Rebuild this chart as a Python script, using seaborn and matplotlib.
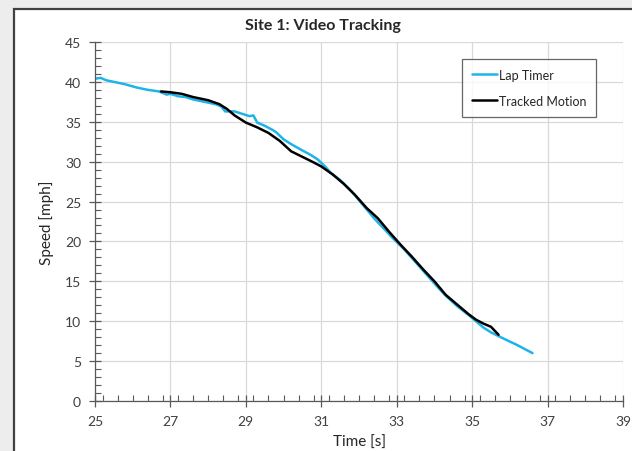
import matplotlib
matplotlib.use("Agg")
import matplotlib.pyplot as plt
import seaborn as sns
import pandas as pd
from matplotlib.patches import Rectangle
from matplotlib.ticker import MultipleLocator

# lap timer trace
lap_time = [25.0, 25.15, 25.3, 25.5, 25.8, 26.1, 26.4, 26.7, 26.9, 27.0, 27.2, 27.4,
            27.6, 27.9, 28.2, 28.35, 28.45, 28.7, 28.9, 29.1, 29.2, 29.3, 29.5, 29.7,
            29.8, 30.0, 30.2, 30.35, 30.5, 30.7, 30.9, 31.1, 31.25, 31.5, 31.8, 32.1,
            32.4, 32.7, 32.9, 33.2, 33.5, 33.8, 34.1, 34.3, 34.6, 34.9, 35.1, 35.3,
            35.5, 35.8, 36.2, 36.6]
lap_speed = [40.4, 40.5, 40.2, 40.0, 39.7, 39.3, 39.0, 38.8, 38.4, 38.5, 38.2, 38.1,
             37.8, 37.5, 37.2, 36.9, 36.3, 36.3, 36.0, 35.7, 35.8, 34.9, 34.5, 34.0,
             33.7, 32.8, 32.2, 31.8, 31.4, 30.9, 30.3, 29.4, 28.6, 27.7, 26.3, 24.6,
             22.9, 21.4, 20.4, 19.0, 17.4, 15.8, 14.2, 13.2, 11.9, 10.8, 10.0, 9.2,
             8.6, 7.9, 7.0, 6.0]

# video tracked motion
trk_time = [26.75, 27.0, 27.3, 27.6, 28.0, 28.3, 28.5, 28.7, 29.0, 29.3, 29.6, 29.9,
            30.2, 30.5, 30.8, 31.0, 31.3, 31.6, 31.9, 32.2, 32.5, 32.8, 33.1, 33.4,
            33.7, 34.0, 34.3, 34.6, 34.9, 35.1, 35.3, 35.5, 35.7]
trk_speed = [38.8, 38.7, 38.5, 38.1, 37.7, 37.2, 36.6, 35.8, 34.9, 34.3, 33.6, 32.6,
             31.3, 30.6, 29.9, 29.4, 28.4, 27.2, 25.8, 24.2, 22.9, 21.2, 19.6, 18.1,
             16.5, 15.0, 13.3, 12.1, 10.9, 10.2, 9.7, 9.3, 8.3]

x_ticks = [25, 27, 29, 31, 33, 35, 37, 39]

sns.set_style("white")
plt.rcParams["font.family"] = ["Lato", "DejaVu Sans"]

df_lap = pd.DataFrame({"t": lap_time, "v": lap_speed})
df_trk = pd.DataFrame({"t": trk_time, "v": trk_speed})

fig = plt.figure(figsize=(6.32, 4.52), dpi=100, facecolor="#ededed")
# white panel with dark frame, like the screenshot
fig.patches.append(Rectangle((14 / 632, -0.05), 1.0, 1 - 10 / 452 + 0.05,
                             transform=fig.transFigure, facecolor="white",
                             edgecolor="#404040", linewidth=1.6, zorder=-10))

ax = fig.add_axes([0.1503, 0.1106, 0.8355, 0.7943])
ax.set_facecolor("none")

sns.lineplot(data=df_lap, x="t", y="v", ax=ax, color="#1fb4e8", linewidth=1.8,
             estimator=None, sort=False, label="Lap Timer")
sns.lineplot(data=df_trk, x="t", y="v", ax=ax, color="black", linewidth=1.8,
             estimator=None, sort=False, label="Tracked Motion")

ax.set_xlim(25, 39)
ax.set_ylim(0, 45)
ax.set_xticks(x_ticks)
ax.yaxis.set_major_locator(MultipleLocator(5))
ax.xaxis.set_minor_locator(MultipleLocator(0.4))
ax.yaxis.set_minor_locator(MultipleLocator(1))
ax.grid(True, which="major", color="#d9d9d9", linewidth=0.9)
ax.set_axisbelow(True)

for s in ["top", "right"]:
    ax.spines[s].set_visible(False)
for s in ["left", "bottom"]:
    ax.spines[s].set_color("#595959")
    ax.spines[s].set_linewidth(0.9)

ax.tick_params(which="both", bottom=True, left=True)
ax.tick_params(which="major", direction="inout", length=8, width=0.9,
               color="#595959", labelsize=10, labelcolor="#404040", pad=6)
ax.tick_params(which="minor", direction="in", length=4, width=0.8, color="#595959")

fig.text(323 / 632, 1 - 26 / 452, "Site 1: Video Tracking", fontsize=11.5,
         fontweight="bold", ha="center", va="center")
ax.set_xlabel("Time [s]", fontsize=11, labelpad=6)
ax.set_ylabel("Speed [mph]", fontsize=11, labelpad=8)

leg = ax.legend(loc="upper right", bbox_to_anchor=(0.949, 0.953), fontsize=9,
                frameon=True, fancybox=False, edgecolor="#404040",
                handlelength=2.0, handletextpad=0.1, labelspacing=1.1,
                borderpad=0.8, borderaxespad=0)
leg.get_frame().set_linewidth(0.9)

fig.savefig("out.png", dpi=100, facecolor=fig.get_facecolor())
